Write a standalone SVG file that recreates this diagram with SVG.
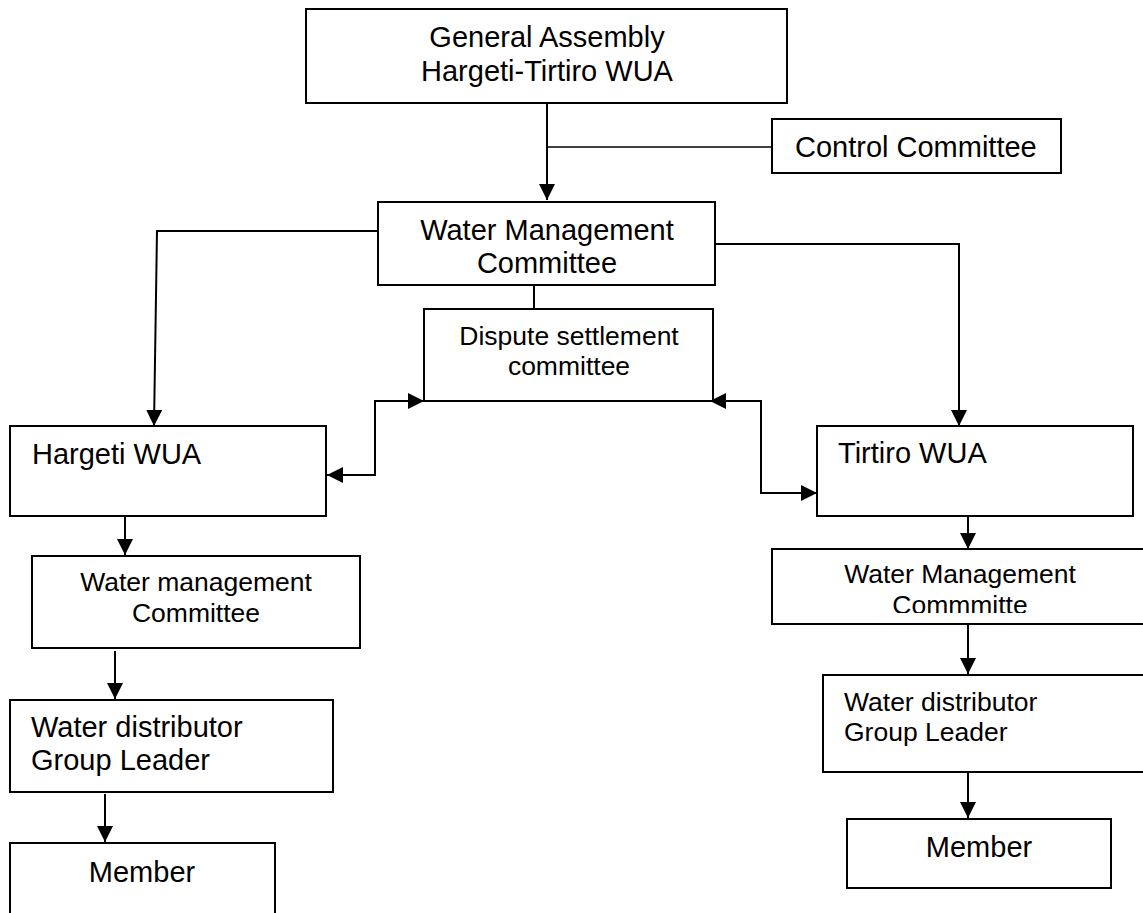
<svg xmlns="http://www.w3.org/2000/svg" width="1143" height="913" viewBox="0 0 1143 913">
<style>
.box{fill:#fff;stroke:#000;stroke-width:2}
.t{font-family:"Liberation Sans",Arial,sans-serif;font-size:29px;fill:#000}
.s{font-family:"Liberation Sans",Arial,sans-serif;font-size:26.5px;fill:#000}
.c{text-anchor:middle}
.ln{fill:none;stroke:#000;stroke-width:2}
.arr{marker-end:url(#ah)}
.dbl{marker-start:url(#ah);marker-end:url(#ah)}
</style>
<defs>
<marker id="ah" viewBox="0 0 16 16" refX="16" refY="8" markerWidth="16" markerHeight="16" orient="auto-start-reverse" markerUnits="userSpaceOnUse"><path d="M0,0 L16,8 L0,16 z" fill="#000"/></marker>
<clipPath id="clipR"><rect x="772" y="549" width="380" height="64"/></clipPath>
</defs>
<rect width="1143" height="913" fill="#fff"/>
<g id="connectors">
<path class="ln arr" d="M547,103 V200"/>
<path class="ln" style="stroke-width:1.5" d="M548,147 H772"/>
<path class="ln arr" d="M378,231 H157 L154,426"/>
<path class="ln arr" d="M715,244 H959 V426"/>
<path class="ln" d="M534,285 V309"/>
<path class="ln dbl" d="M424,401 H375 V475 H327"/>
<path class="ln dbl" d="M710,401 H761 V493 H817"/>
<path class="ln arr" d="M125,516 V555"/>
<path class="ln arr" d="M115,651 V699"/>
<path class="ln arr" d="M105,794 V842"/>
<path class="ln arr" d="M968,516 V549"/>
<path class="ln arr" d="M968,625 V674"/>
<path class="ln arr" d="M968,773 V818"/>
</g>
<g id="general-assembly">
<rect class="box" x="306" y="9" width="481" height="94"/>
<text class="t c" x="547" y="47">General Assembly</text>
<text class="t c" x="547" y="81">Hargeti-Tirtiro WUA</text>
</g>
<g id="control-committee">
<rect class="box" x="772" y="119" width="289" height="54"/>
<text class="t" x="795" y="157">Control Committee</text>
</g>
<g id="water-management-committee">
<rect class="box" x="378" y="202" width="337" height="83"/>
<text class="t c" x="547" y="240">Water Management</text>
<text class="t c" x="547" y="273">Committee</text>
</g>
<g id="dispute-settlement">
<rect class="box" x="424" y="309" width="289" height="92"/>
<text class="s c" x="569" y="345">Dispute settlement</text>
<text class="s c" x="569" y="375">committee</text>
</g>
<g id="hargeti-wua">
<rect class="box" x="10" y="426" width="316" height="90"/>
<text class="t" x="32" y="464">Hargeti WUA</text>
</g>
<g id="tirtiro-wua">
<rect class="box" x="817" y="426" width="316" height="90"/>
<text class="t" x="838" y="463">Tirtiro WUA</text>
</g>
<g id="hargeti-wmc">
<rect class="box" x="32" y="556" width="328" height="92"/>
<text class="s c" x="196" y="591">Water management</text>
<text class="s c" x="196" y="622">Committee</text>
</g>
<g id="hargeti-distributor">
<rect class="box" x="10" y="700" width="323" height="92"/>
<text class="t" x="31" y="737">Water distributor</text>
<text class="t" x="31" y="770">Group Leader</text>
</g>
<g id="hargeti-member">
<rect class="box" x="10" y="843" width="265" height="90"/>
<text class="t c" x="142" y="882">Member</text>
</g>
<g id="tirtiro-wmc">
<rect class="box" x="772" y="549" width="380" height="75"/>
<text class="s c" x="960" y="583">Water Management</text>
<text class="s c" x="960" y="614" clip-path="url(#clipR)">Commmitte</text>
</g>
<g id="tirtiro-distributor">
<rect class="box" x="823" y="675" width="330" height="97"/>
<text class="s" x="844" y="711">Water distributor</text>
<text class="s" x="844" y="741">Group Leader</text>
</g>
<g id="tirtiro-member">
<rect class="box" x="847" y="819" width="264" height="69"/>
<text class="t c" x="979" y="857">Member</text>
</g>
</svg>
